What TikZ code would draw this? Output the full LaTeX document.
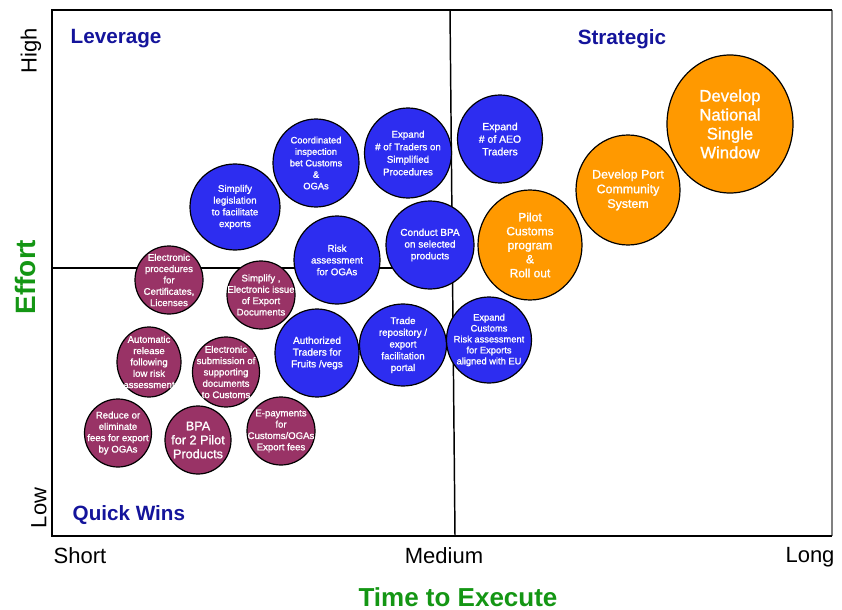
\documentclass[tikz,border=0pt]{standalone}
\usepackage{fontspec}
\setmainfont{Liberation Sans}
\newfontfamily\bubfont[FakeBold=1.2]{Liberation Sans}
\usetikzlibrary{shapes.geometric}

\definecolor{bubmaroon}{RGB}{153,51,102}
\definecolor{bubblue}{RGB}{45,45,240}
\definecolor{buborange}{RGB}{255,153,0}
\definecolor{axgreen}{RGB}{20,150,20}
\definecolor{quadnavy}{RGB}{20,20,155}

\tikzset{
  bub/.style 2 args={ellipse, draw=black, line width=0.9pt, inner sep=0pt,
    minimum width=#1*0.75pt, minimum height=#2*0.75pt},
  mbub/.style 2 args={bub={#1}{#2}, fill=bubmaroon},
  bbub/.style 2 args={bub={#1}{#2}, fill=bubblue},
  obub/.style 2 args={bub={#1}{#2}, fill=buborange},
  btxt/.style 2 args={text=white, align=center, inner sep=0pt,
    font=\bubfont\fontsize{#1}{#2}\selectfont},
  quad/.style={text=quadnavy, font=\fontsize{15.5}{18}\selectfont\bfseries},
  axtick/.style={font=\fontsize{16.5}{19}\selectfont},
  axlbl/.style={text=axgreen, font=\fontsize{19.5}{23}\selectfont\bfseries}
}

\begin{document}
\begin{tikzpicture}[x=0.75pt, y=-0.75pt]
  \useasboundingbox (0,0) rectangle (842,610);

  % — frame and quadrant lines —
  \coordinate (tl) at (52,10);
  \coordinate (tr) at (832,10);
  \coordinate (bl) at (52,536);
  \coordinate (br) at (832,536);
  \coordinate (mt) at (450,10);
  \coordinate (mb) at (455,536);
  \coordinate (hl) at (52,268);
  \coordinate (hr) at (453,268);
  \draw[gray, line width=1.3pt] (tr) -- (br);
  \draw[line width=1.6pt] (tr) -- (tl) -- (bl) -- (br);
  \draw[line width=1.1pt] (mt) -- (mb);
  \draw[line width=1.1pt] (hl) -- (hr);

  % — quick wins (maroon) —
  \node[mbub={68}{68}] (ep) at (169,280) {};
  \node[btxt={7.2}{8.5}] (ep-t) at (ep) {Electronic\\procedures\\for\\Certificates,\\Licenses};
  \node[mbub={68}{68}] (ei) at (261,295) {};
  \node[btxt={7.2}{8.5}] (ei-t) at (ei) {Simplify ,\\Electronic issue\\of Export\\Documents};
  \node[mbub={64}{70}] (ar) at (149,362) {};
  \node[btxt={7.2}{8.5}] (ar-t) at (ar) {Automatic\\release\\following\\low risk\\assessment};
  \node[mbub={67}{70}] (es) at (226,372) {};
  \node[btxt={7.2}{8.5}] (es-t) at (es) {Electronic\\submission of\\supporting\\documents\\to Customs};
  \node[mbub={67}{68}] (rf) at (118,433) {};
  \node[btxt={7.2}{8.5}] (rf-t) at (rf) {Reduce or\\eliminate\\fees for export\\by OGAs};
  \node[mbub={66}{68}] (bp) at (198,440) {};
  \node[btxt={9.5}{10.5}] (bp-t) at (bp) {BPA\\for 2 Pilot\\Products};
  \node[mbub={68}{68}] (ep2) at (281,431) {};
  \node[btxt={7.2}{8.5}] (ep2-t) at (ep2) {E-payments\\for\\Customs/OGAs\\Export fees};

  % — medium term (blue) —
  \node[bbub={90}{86}] (sl) at (235,207) {};
  \node[btxt={7.3}{8.8}] (sl-t) at (sl) {Simplify\\legislation\\to facilitate\\exports};
  \node[bbub={86}{88}] (ci) at (316,163) {};
  \node[btxt={7}{8.6}] (ci-t) at (ci) {Coordinated\\inspection\\bet Customs\\\&\\OGAs};
  \node[bbub={87}{90}] (et) at (408,153) {};
  \node[btxt={7.3}{9.4}] (et-t) at (et) {Expand\\\# of Traders on\\Simplified\\Procedures};
  \node[bbub={85}{88}] (aeo) at (500,139) {};
  \node[btxt={7.8}{9.4}] (aeo-t) at (aeo) {Expand\\\# of AEO\\Traders};
  \node[bbub={86}{88}] (ra) at (337,260) {};
  \node[btxt={7.3}{8.8}] (ra-t) at (ra) {Risk\\assessment\\for OGAs};
  \node[bbub={88}{88}] (cb) at (430,245) {};
  \node[btxt={7.5}{8.8}] (cb-t) at (cb) {Conduct BPA\\on selected\\products};
  \node[bbub={84}{88}] (atf) at (317,353) {};
  \node[btxt={7.5}{8.8}] (atf-t) at (atf) {Authorized\\Traders for\\Fruits /vegs};
  \node[bbub={87}{82}] (trp) at (403,345) {};
  \node[btxt={7.3}{8.8}] (trp-t) at (trp) {Trade\\repository /\\export\\facilitation\\portal};
  \node[bbub={85}{86}] (ec) at (489,340) {};
  \node[btxt={7}{8.2}] (ec-t) at (ec) {Expand\\Customs\\Risk assessment\\for Exports\\aligned with EU};

  % — strategic (orange) —
  \node[obub={104}{110}] (pc) at (530,245) {};
  \node[btxt={9}{10.5}] (pc-t) at (pc) {Pilot\\Customs\\program\\\&\\Roll out};
  \node[obub={104}{110}] (dp) at (628,190) {};
  \node[btxt={9.3}{11}] (dp-t) at (dp) {Develop Port\\Community\\System};
  \node[obub={126}{138}] (nw) at (730,124) {};
  \node[btxt={12.5}{14.2}] (nw-t) at (nw) {Develop\\National\\Single\\Window};

  % quadrant names
  \node[quad, anchor=west] (lev) at (66,39) {Leverage};
  \node[quad] (strat) at (622,39) {Strategic};
  \node[quad, anchor=west] (qw) at (68,515) {Quick Wins};

  % axes
  \node[axtick, rotate=90] (high) at (31,51) {High};
  \node[axtick, rotate=90] (low) at (39,508) {Low};
  \node[axlbl, rotate=90, font=\fontsize{21}{25}\selectfont\bfseries] (eff) at (25,277) {Effort};
  \node[axtick] (short) at (80,556) {Short};
  \node[axtick] (med) at (444,556) {Medium};
  \node[axtick] (long) at (810,557) {Long};
  \node[axlbl] (time) at (458,597) {Time to Execute};
\end{tikzpicture}
\end{document}
